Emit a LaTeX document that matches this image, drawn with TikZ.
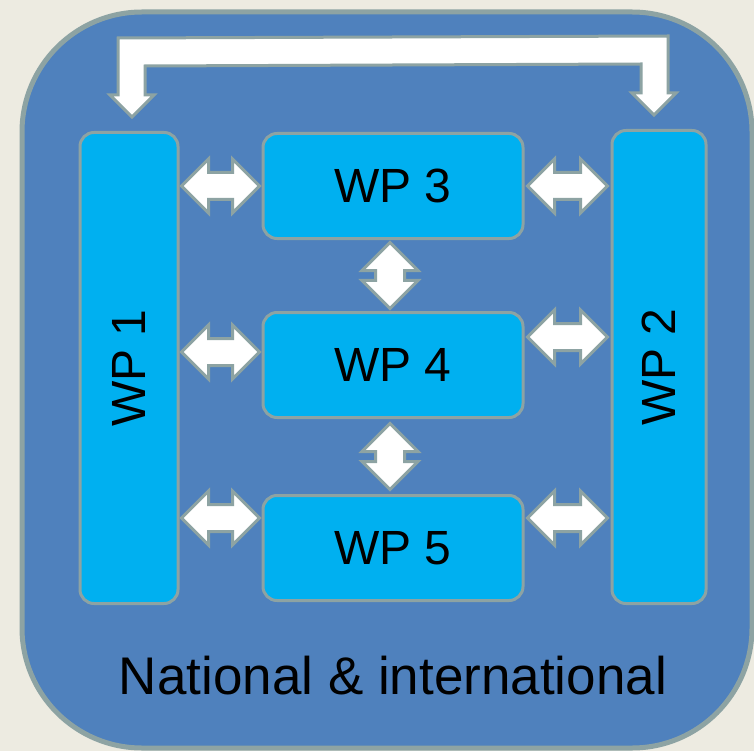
\documentclass[tikz,border=0pt]{standalone}
\usepackage{fontspec}
\setmainfont{Liberation Sans}
\usetikzlibrary{calc,shapes.arrows}

\definecolor{cream}{HTML}{EDEBE1}
\definecolor{panel}{HTML}{4F81BD}
\definecolor{edge}{HTML}{8DA3A3}
\definecolor{wpfill}{HTML}{00B0F0}

\tikzset{
  wpbox/.style={draw=edge, fill=wpfill, line width=3pt, rounded corners=14pt,
    inner sep=0pt, font=\fontsize{48}{50}\selectfont},
  link/.style={double arrow, draw=edge, fill=white, line width=3pt, inner xsep=0pt,
    inner ysep=12pt, double arrow head extend=13.5pt, minimum height=78pt},
  vlink/.style={link, rotate=90, inner ysep=13pt, minimum height=66pt},
  bigarrow/.style={draw=edge, fill=white, line width=3pt, line join=miter}
}

\begin{document}
\begin{tikzpicture}[x=1pt,y=-1pt]
	\fill [cream] (0,0) rectangle (754,751);
	\useasboundingbox (0,0) rectangle (754,751);
	\draw [edge, fill=panel, line width=5pt, rounded corners=120pt] (22,12) rectangle (752,748);
	% work packages
	\node [wpbox, minimum width=98pt, minimum height=471pt] (wp1) at (129,368) {};
	\node [rotate=90, font=\fontsize{48}{50}\selectfont] (wp1txt) at (wp1) {WP 1};
	\node [wpbox, minimum width=94pt, minimum height=473pt] (wp2) at (659,367) {};
	\node [rotate=90, font=\fontsize{48}{50}\selectfont] (wp2txt) at (wp2) {WP 2};
	\node [wpbox, minimum width=260pt, minimum height=105pt] (wp3) at (393,186) {WP 3};
	\node [wpbox, minimum width=260pt, minimum height=105pt] (wp4) at (393,365) {WP 4};
	\node [wpbox, minimum width=260pt, minimum height=105pt] (wp5) at (393,548) {WP 5};
	% links between packages
	\node [link] (l13) at ($(wp1.east |- wp3)!0.5!(wp3.west)$) {};
	\node [link] (l14) at ([yshift=13pt]$(wp1.east |- wp4)!0.5!(wp4.west)$) {};
	\node [link] (l15) at ([yshift=30pt]$(wp1.east |- wp5)!0.5!(wp5.west)$) {};
	\node [link, minimum height=80pt] (l32) at ($(wp3.east)!0.5!(wp2.west |- wp3)$) {};
	\node [link, minimum height=80pt] (l42) at ([yshift=28pt]$(wp4.east)!0.5!(wp2.west |- wp4)$) {};
	\node [link, minimum height=80pt] (l52) at ([yshift=30pt]$(wp5.east)!0.5!(wp2.west |- wp5)$) {};
	\node [vlink] (l34) at ([xshift=-3pt]$(wp3.south)!0.5!(wp4.north)$) {};
	\node [vlink] (l45) at ([xshift=-3pt]$(wp4.south)!0.5!(wp5.north)$) {};
	% feedback arrow over the top
	\coordinate (t1) at ([xshift=3pt,yshift=14pt]wp1.north);
	\coordinate (t2) at ([xshift=-5pt,yshift=14pt]wp2.north);
	\draw [bigarrow] (t1) -- ++(-22,-22) -- ++(8,0) -- ($(t1)+(-14,-79)$)
		-- ($(t2)+(14,-79)$) -- ($(t2)+(14,-22)$) -- ($(t2)+(22,-22)$) -- (t2)
		-- ($(t2)+(-22,-22)$) -- ($(t2)+(-13,-22)$) -- ($(t2)+(-13,-51)$)
		-- ($(t1)+(13,-51)$) -- ($(t1)+(13,-22)$) -- ($(t1)+(22,-22)$) -- cycle;
	\node [font=\fontsize{53}{55}\selectfont] (scope) at (393,676) {National \& international};
\end{tikzpicture}
\end{document}
